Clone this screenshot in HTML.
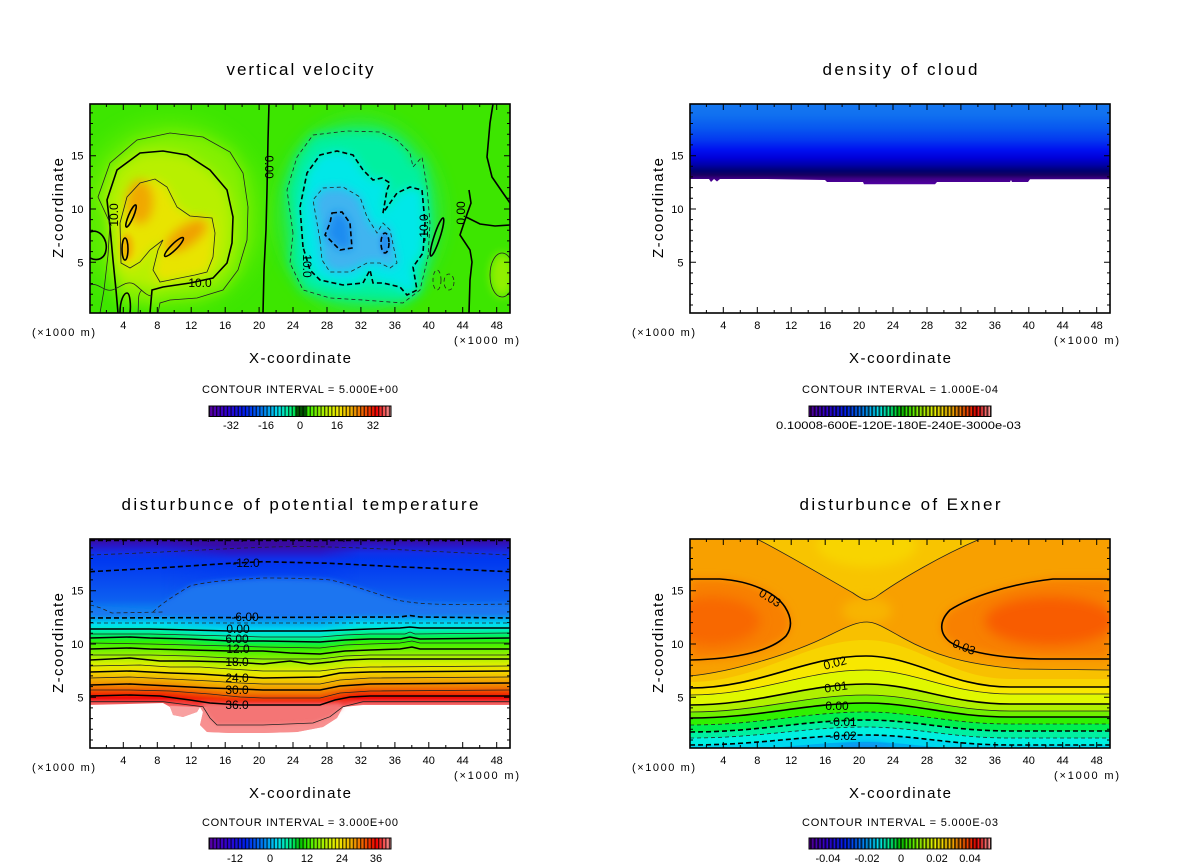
<!DOCTYPE html>
<html><head><meta charset="utf-8"><style>
html,body{margin:0;padding:0;background:#fff;}
svg{display:block;}
text{font-family:"Liberation Sans",sans-serif;fill:#000;}
</style></head><body>
<svg width="1200" height="868" viewBox="0 0 1200 868" xmlns="http://www.w3.org/2000/svg">
<defs>
<clipPath id="cTL"><rect x="90" y="104" width="420" height="209"/></clipPath>
<clipPath id="cTR"><rect x="690" y="104" width="420" height="209"/></clipPath>
<clipPath id="cBL"><rect x="90" y="539" width="420" height="209"/></clipPath>
<clipPath id="cBR"><rect x="690" y="539" width="420" height="209"/></clipPath>
<filter id="b2" x="-50%" y="-50%" width="200%" height="200%"><feGaussianBlur stdDeviation="2"/></filter>
<filter id="b3" x="-50%" y="-50%" width="200%" height="200%"><feGaussianBlur stdDeviation="3"/></filter>
<filter id="b4" x="-50%" y="-50%" width="200%" height="200%"><feGaussianBlur stdDeviation="4.5"/></filter>
<filter id="b5" x="-50%" y="-50%" width="200%" height="200%"><feGaussianBlur stdDeviation="5"/></filter>
<filter id="b6" x="-50%" y="-50%" width="200%" height="200%"><feGaussianBlur stdDeviation="6"/></filter>
<filter id="b10" x="-50%" y="-50%" width="200%" height="200%"><feGaussianBlur stdDeviation="10"/></filter>
<linearGradient id="gCloud" gradientUnits="userSpaceOnUse" x1="0" y1="104" x2="0" y2="184">
<stop offset="0" stop-color="#1678f0"/><stop offset="0.1375" stop-color="#1070f0"/><stop offset="0.3" stop-color="#0858f0"/><stop offset="0.45" stop-color="#0438f0"/><stop offset="0.575" stop-color="#0010f0"/><stop offset="0.675" stop-color="#0000d8"/><stop offset="0.7625" stop-color="#0000a8"/><stop offset="0.8375" stop-color="#000070"/><stop offset="0.8875" stop-color="#180060"/><stop offset="0.9375" stop-color="#400088"/><stop offset="1" stop-color="#5000a0"/>
</linearGradient>
<linearGradient id="gTheta" gradientUnits="userSpaceOnUse" x1="0" y1="539" x2="0" y2="748">
<stop offset="0" stop-color="#3a0aa0"/><stop offset="0.0335" stop-color="#2818c8"/><stop offset="0.067" stop-color="#1030e8"/><stop offset="0.1" stop-color="#0038f0"/><stop offset="0.187" stop-color="#0848f0"/><stop offset="0.292" stop-color="#0c60f0"/><stop offset="0.349" stop-color="#0c88f0"/><stop offset="0.383" stop-color="#00b8f0"/><stop offset="0.411" stop-color="#00e0f0"/><stop offset="0.435" stop-color="#00f0b8"/><stop offset="0.464" stop-color="#00f060"/><stop offset="0.493" stop-color="#30f000"/><stop offset="0.531" stop-color="#70f000"/><stop offset="0.565" stop-color="#a8f000"/><stop offset="0.598" stop-color="#d8f000"/><stop offset="0.627" stop-color="#f0e000"/><stop offset="0.656" stop-color="#f0c000"/><stop offset="0.684" stop-color="#f0a000"/><stop offset="0.713" stop-color="#f07000"/><stop offset="0.737" stop-color="#f03800"/><stop offset="0.761" stop-color="#f00808"/><stop offset="0.78" stop-color="#f04848"/><stop offset="0.799" stop-color="#f88080"/><stop offset="0.866" stop-color="#f89898"/><stop offset="1" stop-color="#f8a0a0"/>
</linearGradient>
<linearGradient id="gTheta2" gradientUnits="userSpaceOnUse" x1="0" y1="545" x2="0" y2="754">
<stop offset="0" stop-color="#3a0aa0"/><stop offset="0.0335" stop-color="#2818c8"/><stop offset="0.067" stop-color="#1030e8"/><stop offset="0.1" stop-color="#0038f0"/><stop offset="0.187" stop-color="#0848f0"/><stop offset="0.292" stop-color="#0c60f0"/><stop offset="0.349" stop-color="#0c88f0"/><stop offset="0.383" stop-color="#00b8f0"/><stop offset="0.411" stop-color="#00e0f0"/><stop offset="0.435" stop-color="#00f0b8"/><stop offset="0.464" stop-color="#00f060"/><stop offset="0.493" stop-color="#30f000"/><stop offset="0.531" stop-color="#70f000"/><stop offset="0.565" stop-color="#a8f000"/><stop offset="0.598" stop-color="#d8f000"/><stop offset="0.627" stop-color="#f0e000"/><stop offset="0.656" stop-color="#f0c000"/><stop offset="0.684" stop-color="#f0a000"/><stop offset="0.713" stop-color="#f07000"/><stop offset="0.737" stop-color="#f03800"/><stop offset="0.761" stop-color="#f00808"/><stop offset="0.78" stop-color="#f04848"/><stop offset="0.799" stop-color="#f88080"/><stop offset="0.866" stop-color="#f89898"/><stop offset="1" stop-color="#f8a0a0"/>
</linearGradient>
<linearGradient id="gMaskH" gradientUnits="userSpaceOnUse" x1="90" y1="0" x2="510" y2="0">
<stop offset="0.17" stop-color="#000"/><stop offset="0.333" stop-color="#fff"/><stop offset="0.548" stop-color="#fff"/><stop offset="0.64" stop-color="#000"/>
</linearGradient>
<mask id="mMid"><rect x="90" y="539" width="420" height="209" fill="url(#gMaskH)"/></mask>
<linearGradient id="gBar" x1="0" y1="0" x2="1" y2="0">
<stop offset="0" stop-color="#5a00a0"/><stop offset="0.1" stop-color="#3000d0"/><stop offset="0.2" stop-color="#0020f0"/><stop offset="0.3" stop-color="#0080f0"/><stop offset="0.38" stop-color="#00e0f0"/><stop offset="0.45" stop-color="#00f080"/><stop offset="0.5" stop-color="#00c000"/><stop offset="0.55" stop-color="#40f000"/><stop offset="0.62" stop-color="#a0f000"/><stop offset="0.7" stop-color="#f0f000"/><stop offset="0.78" stop-color="#f0b000"/><stop offset="0.86" stop-color="#f05000"/><stop offset="0.92" stop-color="#f00000"/><stop offset="1" stop-color="#f8a0a0"/>
</linearGradient>
<pattern id="pStripe" x="0" y="0" width="3.6" height="20" patternUnits="userSpaceOnUse"><rect width="1.3" height="20" fill="#000" fill-opacity="0.7"/></pattern>
<pattern id="pStripe2" x="0" y="0" width="3.6" height="20" patternUnits="userSpaceOnUse"><rect width="2" height="20" fill="#000" fill-opacity="0.7"/></pattern>
<g id="ticks" fill="none" stroke="#000">
<path stroke-width="1" d="M123.3,313v-6M157.3,313v-6M191.2,313v-6M225.2,313v-6M259.1,313v-6M293,313v-6M327,313v-6M360.9,313v-6M394.9,313v-6M428.8,313v-6M462.7,313v-6M496.7,313v-6M123.3,104v6M157.3,104v6M191.2,104v6M225.2,104v6M259.1,104v6M293,104v6M327,104v6M360.9,104v6M394.9,104v6M428.8,104v6M462.7,104v6M496.7,104v6M106.4,313v-3M140.3,313v-3M174.2,313v-3M208.2,313v-3M242.1,313v-3M276.1,313v-3M310,313v-3M343.9,313v-3M377.9,313v-3M411.8,313v-3M445.8,313v-3M479.7,313v-3M106.4,104v3M140.3,104v3M174.2,104v3M208.2,104v3M242.1,104v3M276.1,104v3M310,104v3M343.9,104v3M377.9,104v3M411.8,104v3M445.8,104v3M479.7,104v3M90,262.3h6M90,209h6M90,155.7h6M510,262.3h-6M510,209h-6M510,155.7h-6M90,305h3M90,294.3h3M90,283.6h3M90,272.9h3M90,251.6h3M90,240.9h3M90,230.2h3M90,219.6h3M90,198.3h3M90,187.6h3M90,176.9h3M90,166.3h3M90,144.9h3M90,134.2h3M90,123.5h3M90,112.9h3M510,305h-3M510,294.3h-3M510,283.6h-3M510,272.9h-3M510,251.6h-3M510,240.9h-3M510,230.2h-3M510,219.6h-3M510,198.3h-3M510,187.6h-3M510,176.9h-3M510,166.3h-3M510,144.9h-3M510,134.2h-3M510,123.5h-3M510,112.9h-3"/>
<rect x="90" y="104" width="420" height="209" stroke-width="1.6"/>
</g>
</defs>
<rect width="1200" height="868" fill="#fff"/>

<!-- ============ PANEL 1: vertical velocity ============ -->
<g clip-path="url(#cTL)">
<rect x="90" y="104" width="420" height="209" fill="#3de600"/>
<ellipse cx="170" cy="215" rx="95" ry="95" fill="#5cec00" filter="url(#b10)"/>
<ellipse cx="360" cy="215" rx="80" ry="95" fill="#20ea50" filter="url(#b10)"/>
<polygon filter="url(#b6)" fill="#84f000" points="110,223 98,197 110,163 137,140 170,133 203,137 230,152 243,173 248,207 247,240 238,270 223,290 197,298 170,300 150,305 140,300 130,305 118,295 112,270 108,250"/>
<polygon filter="url(#b6)" fill="#b8f000" points="110,227 107,200 117,170 140,153 163,151 187,155 210,170 227,190 233,217 232,243 227,263 213,278 190,283 163,287 150,290 140,285 125,285 115,270 112,250"/>
<polygon filter="url(#b5)" fill="#e8e400" points="121,263 120,223 127,197 140,183 155,179 167,187 177,207 190,216 212,218 215,233 213,257 207,272 195,275 180,278 160,282 153,270 158,250 163,240 150,250 140,262 130,268"/>
<ellipse cx="140" cy="202" rx="13" ry="22" fill="#f0a800" filter="url(#b5)"/>
<ellipse cx="186" cy="236" rx="24" ry="10" fill="#f0a000" filter="url(#b5)" transform="rotate(-35 186 236)"/>
<ellipse cx="127" cy="247" rx="6" ry="13" fill="#f0b000" filter="url(#b3)"/>
<polygon filter="url(#b6)" fill="#00f0a0" points="293,233 287,190 297,157 313,135 347,131 380,132 397,140 410,153 413,167 422,157 427,187 430,223 428,257 420,290 403,303 363,300 330,298 303,290 290,263"/>
<polygon filter="url(#b5)" fill="#00e8e8" points="303,247 300,207 307,173 320,155 337,151 353,155 363,170 373,180 382,178 390,183 387,190 383,213 397,193 410,187 422,190 425,223 423,253 413,267 417,290 407,295 400,287 383,283 373,283 370,270 363,283 343,285 320,280 310,270"/>
<polygon filter="url(#b5)" fill="#40b4f0" points="320,240 313,200 323,188 343,187 360,197 367,217 377,233 383,223 390,230 397,263 390,268 380,263 367,263 350,272 330,272 322,260"/>
<polygon filter="url(#b4)" fill="#1c8cf0" points="332,213 342,212 350,223 352,248 340,250 332,242 325,235 330,223"/>
<ellipse cx="385" cy="243" rx="5" ry="11" fill="#2890f0" filter="url(#b2)"/>
<ellipse cx="502" cy="275" rx="12" ry="22" fill="#90f000" filter="url(#b4)"/>
<!-- thick solid -->
<g fill="none" stroke="#000" stroke-width="1.6">
<path d="M269,104 L268,140 L267,190 L266,230 L264,270 L263,313"/>
<path d="M118,313 L116,290 L113,260 L110,227 L107,200 L117,170 L140,153 L163,151 L187,155 L210,170 L227,190 L233,217 L232,243 L227,263 L213,278 L190,283 L163,287 L152,290 L150,313"/>
<ellipse cx="131" cy="216" rx="2.5" ry="12" transform="rotate(23 131 216)"/>
<ellipse cx="125" cy="249" rx="3" ry="11"/>
<ellipse cx="174" cy="247" rx="13" ry="3" transform="rotate(-45 174 247)"/>
<path d="M493,104 L490,123 L487,157 L492,177 L503,193 L510,203"/>
<path d="M469,190 L471,203 L466,217 L460,235 L470,250 L472,262 L470,280 L469,313"/>
<path d="M466,217 L480,224 L495,226 L510,225"/>
<ellipse cx="437" cy="237" rx="3" ry="20" transform="rotate(18 437 237)"/>
<path d="M90,232 C100,228 108,240 106,250 C105,258 98,262 90,258"/>
<path d="M120,313 C120,300 124,293 127,293 C130,293 131,305 130,313"/>
</g>
<!-- thin solid -->
<g fill="none" stroke="#222" stroke-width="0.8">
<path d="M100,313 L104,290 L108,255 L110,223 L98,197 L110,163 L137,140 L170,133 L203,137 L230,152 L243,173 L248,207 L247,240 L238,270 L223,290 L197,298 L170,300 L160,303 L158,313"/>
<polygon points="121,263 120,223 127,197 140,183 155,179 167,187 177,207 190,216 212,218 215,233 213,257 207,272 195,275 180,278 160,282 153,270 158,250 163,240 150,250 140,262 130,268"/>
<path d="M90,285 C98,282 104,292 112,290 C120,288 126,280 134,284 C140,288 146,296 152,296"/>
<path d="M138,313 C139,302 137,294 142,290"/>
<ellipse cx="502" cy="275" rx="12" ry="22"/>
</g>
<!-- dashed -->
<g fill="none" stroke="#222" stroke-width="0.8" stroke-dasharray="4 3">
<polygon points="293,233 287,190 297,157 313,135 347,131 380,132 397,140 410,153 413,167 422,157 427,187 430,223 428,257 420,290 403,303 363,300 330,298 303,290 290,263"/>
<polygon points="320,240 313,200 323,188 343,187 360,197 367,217 377,233 383,223 390,230 397,263 390,268 380,263 367,263 350,272 330,272 322,260"/>
<ellipse cx="437" cy="280" rx="4" ry="10"/>
<ellipse cx="449" cy="282" rx="5" ry="8"/>
</g>
<g fill="none" stroke="#000" stroke-width="1.6" stroke-dasharray="5 3">
<polygon points="303,247 300,207 307,173 320,155 337,151 353,155 363,170 373,180 382,178 390,183 387,190 383,213 397,193 410,187 422,190 425,223 423,253 413,267 417,290 407,295 400,287 383,283 373,283 370,270 363,283 343,285 320,280 310,270"/>
<polygon points="332,213 342,212 350,223 352,248 340,250 332,242 325,235 330,223"/>
<ellipse cx="385" cy="243" rx="4" ry="10"/>
</g>
<g font-size="12">
<text x="200" y="287" text-anchor="middle">10.0</text>
<text transform="translate(265,167) rotate(90)" text-anchor="middle">0.00</text>
<text transform="translate(118,215) rotate(-90)" text-anchor="middle">10.0</text>
<text transform="translate(303,266) rotate(90)" text-anchor="middle">10.0</text>
<text transform="translate(428,228) rotate(-90)" text-anchor="middle">-10.0</text>
<text transform="translate(465,213) rotate(-90)" text-anchor="middle">0.00</text>
</g>
</g>
<use href="#ticks"/>

<!-- ============ PANEL 2: density of cloud ============ -->
<g clip-path="url(#cTR)">
<path fill="url(#gCloud)" d="M690,104 L1110,104 L1110,179.3 L1030,179.3 L1028,182 L1012,182 L1011,180 L1010,182 L937,182 L935,184.3 L864,184.3 L863,182 L827,182 L825,180 L767,179 L720,179 L717,181.5 L714,179 L711,182 L709,179 L690,179 Z"/>
</g>
<use href="#ticks" transform="translate(600,0)"/>

<!-- ============ PANEL 3: potential temperature ============ -->
<g clip-path="url(#cBL)">
<rect x="90" y="539" width="420" height="209" fill="url(#gTheta)"/>
<rect x="90" y="539" width="420" height="209" fill="url(#gTheta2)" mask="url(#mMid)"/>
<path filter="url(#b3)" fill="#1a74f0" d="M153,612 C160,605 170,598 190,586 C210,581 230,580 263,578 C300,578 320,579 330,580 C350,584 370,592 397,600 C420,605 450,605 510,604 L510,616 L90,617 L90,608 Z"/>
<path fill="#fff" d="M90,705 L163,703 L170,707 L173,715 L183,717 L197,712 L200,707 L203,712 L200,725 L207,732 L230,733 L263,733 L297,732 L323,727 L337,718 L343,707 L363,705 L510,705 L510,750 L90,750 Z"/>
<path fill="#f8a0a0" d="M170,706 L173,715 L183,717 L197,712 L200,707 Z"/>
<path fill="#f89090" d="M200,707 L203,712 L200,725 L207,732 L230,733 L263,733 L297,732 L323,727 L337,718 L343,707 Z"/>
<path filter="url(#b2)" fill="#f47474" d="M203,706 L210,718 L217,725 L263,725 L313,723 L330,717 L343,707 L340,703 L200,703 Z"/>
<!-- dashed -->
<g fill="none" stroke="#000" stroke-width="1.6" stroke-dasharray="5 3">
<path d="M90,540.5 L510,540.5"/>
<path d="M90,571.7 L163,567.7 L230,563.3 L263,561.7 L330,563.3 L397,566.7 L510,571.7"/>
<path d="M90,618 L400,617 L410,615.5 L420,617 L510,618"/>
</g>
<g fill="none" stroke="#222" stroke-width="0.8" stroke-dasharray="4 3">
<path d="M90,555 C200,551 240,547 300,546.5 C360,547 420,551 510,555"/>
<path d="M90,605 C100,607 105,610 112,613 L163,612 M153,612 C160,605 170,598 190,586 C210,581 230,580 263,578 C300,578 320,579 330,580 C350,584 370,592 397,600 C420,605 450,605 510,604"/>
<path d="M90,623 L510,623"/>
</g>
<g fill="none" stroke="#000" stroke-width="1.5">
<path d="M90,629 L150,629 L190,630 L230,631 L263,631 L320,631 L345,630 L370,629 L400,628 L410,627 L420,628 L510,628"/>
<path d="M90,638 L130,637 L150,638 L190,639 L230,641 L263,641 L320,642 L345,640 L370,639 L400,639 L410,637 L420,639 L510,638"/>
<path d="M90,649 L130,648 L150,649 L190,650 L230,651 L263,651 L290,653 L320,654 L345,651 L370,650 L400,649 L412,647 L420,649 L510,649"/>
<path d="M90,660 L130,658 L160,661 L190,661 L230,662 L263,664 L290,661 L310,664 L330,662 L345,660 L370,659 L510,659"/>
<path d="M90,672 L130,671 L170,673 L200,674 L230,676 L263,678 L320,677 L340,673 L370,672 L510,671"/>
<path d="M90,685 L130,684 L170,686 L210,688 L240,689 L263,690 L320,690 L340,686 L370,684 L510,683"/>
<path d="M90,696 L130,695 L160,696 L190,700 L210,703 L240,705 L263,705 L320,705 L335,700 L350,697 L370,696 L510,696"/>
</g>
<g fill="none" stroke="#222" stroke-width="0.8">
<path d="M90,634 L150,634 L190,635 L230,636 L263,637 L320,637 L345,635 L370,634 L405,634 L410,632 L415,634 L510,633"/>
<path d="M90,643 L150,644 L190,645 L230,646 L263,647 L320,648 L345,645 L370,644 L400,643 L412,641 L420,643 L510,643"/>
<path d="M90,655 L150,655 L190,656 L230,658 L263,659 L320,659 L345,656 L370,655 L510,655"/>
<path d="M90,666 L140,665 L170,667 L200,667 L230,669 L263,671 L320,671 L345,668 L370,667 L510,666"/>
<path d="M90,678 L130,677 L170,679 L210,681 L240,683 L263,684 L320,684 L340,680 L370,678 L510,677"/>
<path d="M90,690 L130,690 L170,691 L210,694 L240,697 L263,698 L320,698 L340,693 L370,691 L510,690"/>
<path d="M90,701.7 L163,701.7 L203,706.7 L210,718 L217,725 L263,725 L313,723 L330,716.7 L343,706.7 L363,701.7 L510,701.7"/>
</g>
<g font-size="12" text-anchor="middle">
<text x="246" y="567">-12.0</text>
<text x="245" y="621">-6.00</text>
<text x="238" y="633">0.00</text>
<text x="237" y="643">6.00</text>
<text x="238" y="653">12.0</text>
<text x="237" y="666">18.0</text>
<text x="237" y="682">24.0</text>
<text x="237" y="694">30.0</text>
<text x="237" y="709">36.0</text>
</g>
</g>
<use href="#ticks" transform="translate(0,435)"/>

<!-- ============ PANEL 4: Exner ============ -->
<g clip-path="url(#cBR)">
<rect x="690" y="539" width="420" height="209" fill="#f8a000"/>
<path fill="#f8c400" d="M757,539 C790,556 830,580 853,593 C860,598 864,600 867,600 C870,600 875,598 880,594 C900,580 940,556 980,539 Z"/>
<ellipse cx="867" cy="545" rx="50" ry="22" fill="#f8d400" filter="url(#b5)"/>
<ellipse cx="867" cy="611" rx="25" ry="14" fill="#f8b400" filter="url(#b5)"/>
<path filter="url(#b4)" fill="#f88000" d="M690,579 L720,579 C750,581 775,592 785,607 C792,618 792,628 786,636 C772,650 740,659 690,660 Z"/>
<path filter="url(#b4)" fill="#f88000" d="M1110,579 L1053,579 C1010,584 970,597 950,610 C938,622 940,634 950,642 C965,652 1000,658 1040,659 L1110,659 Z"/>
<ellipse cx="712" cy="621" rx="48" ry="24" fill="#f86800" filter="url(#b6)"/>
<ellipse cx="1050" cy="621" rx="65" ry="24" fill="#f85c00" filter="url(#b6)"/>
<path fill="#f8c000" d="M690,676 C730,672 790,655 830,635 C850,625 858,622 867,622 C876,622 885,628 903,638 C930,653 960,664 1020,669 L1110,670 L1110,750 L690,750 Z"/>
<path fill="#f8d400" d="M690,682 C760,682 805,640 866,640 C915,640 950,679 1010,679 L1110,679 L1110,750 L690,750 Z"/>
<path fill="#f8e800" d="M690,688 C760,688 805,656 866,656 C915,656 950,687 1010,687 L1110,687 L1110,750 L690,750 Z"/>
<path fill="#e0f800" d="M690,695 C760,695 805,670 866,670 C915,670 950,694 1010,694 L1110,694 L1110,750 L690,750 Z"/>
<path fill="#b0f000" d="M690,705 C760,705 805,684 866,684 C915,684 950,704 1010,704 L1110,704 L1110,750 L690,750 Z"/>
<path fill="#70f000" d="M690,712 C760,712 805,695 866,695 C915,695 950,711 1010,711 L1110,711 L1110,750 L690,750 Z"/>
<path fill="#30f000" d="M690,718 C760,718 805,703 866,703 C915,703 950,717 1010,717 L1110,717 L1110,750 L690,750 Z"/>
<path fill="#00f050" d="M690,725 C760,725 805,712 866,712 C915,712 950,724 1010,724 L1110,724 L1110,750 L690,750 Z"/>
<path fill="#00f0a0" d="M690,732 C760,732 805,720 866,720 C915,720 950,731 1010,731 L1110,731 L1110,750 L690,750 Z"/>
<path fill="#00f0e0" d="M690,738 C760,738 805,727 866,727 C915,727 950,738 1010,738 L1110,738 L1110,750 L690,750 Z"/>
<path fill="#00d8f0" d="M690,745 C760,745 805,735 866,735 C915,735 950,745 1010,745 L1110,745 L1110,750 L690,750 Z"/>
<path fill="#00b0f0" d="M690,752 C760,752 805,742 866,742 C915,742 950,752 1010,752 L1110,752 L1110,760 L690,760 Z"/>
<ellipse cx="866" cy="750" rx="28" ry="7" fill="#1090f0" filter="url(#b3)"/>
<g fill="none" stroke="#222" stroke-width="0.8">
<path d="M757,539 C790,556 830,580 853,593 C860,598 864,600 867,600 C870,600 875,598 880,594 C900,580 940,556 980,539"/>
<path d="M690,676 C730,672 790,655 830,635 C850,625 858,622 867,622 C876,622 885,628 903,638 C930,653 960,664 1020,669 L1110,670"/>
<path d="M690,695 C760,695 805,670 866,670 C915,670 950,694 1010,694 L1110,694"/>
<path d="M690,712 C760,712 805,695 866,695 C915,695 950,711 1010,711 L1110,711"/>
</g>
<g fill="none" stroke="#222" stroke-width="0.8" stroke-dasharray="4 3">
<path d="M690,725 C760,725 805,712 866,712 C915,712 950,724 1010,724 L1110,724"/>
<path d="M690,738 C760,738 805,727 866,727 C915,727 950,738 1010,738 L1110,738"/>
</g>
<g fill="none" stroke="#000" stroke-width="1.6">
<path d="M690,579 L720,579 C750,581 775,592 785,607 C792,618 792,628 786,636 C772,650 740,659 690,660"/>
<path d="M1110,579 L1053,579 C1010,584 970,597 950,610 C938,622 940,634 950,642 C965,652 1000,658 1040,659 L1110,659"/>
<path d="M690,688 C760,688 805,656 866,656 C915,656 950,687 1010,687 L1110,687"/>
<path d="M690,705 C760,705 805,684 866,684 C915,684 950,704 1010,704 L1110,704"/>
<path d="M690,718 C760,718 805,703 866,703 C915,703 950,717 1010,717 L1110,717"/>
</g>
<g fill="none" stroke="#000" stroke-width="1.6" stroke-dasharray="5 3">
<path d="M690,732 C760,732 805,720 866,720 C915,720 950,731 1010,731 L1110,731"/>
<path d="M690,745 C760,745 805,735 866,735 C915,735 950,745 1010,745 L1110,745"/>
</g>
<g font-size="12" text-anchor="middle">
<text transform="translate(770,598) rotate(32)" y="4">0.03</text>
<text transform="translate(964,647) rotate(22)" y="4">0.03</text>
<text transform="translate(835,663) rotate(-15)" y="4">0.02</text>
<text transform="translate(836,687) rotate(-8)" y="4">0.01</text>
<text x="837" y="710">0.00</text>
<text x="843" y="726">-0.01</text>
<text x="843" y="740">-0.02</text>
</g>
</g>
<use href="#ticks" transform="translate(600,435)"/>

<!-- ============ TEXT: titles ============ -->
<g font-size="17">
<text x="300" y="75" text-anchor="middle" textLength="147" lengthAdjust="spacing">vertical velocity</text>
<text x="900" y="75" text-anchor="middle" textLength="155" lengthAdjust="spacing">density of cloud</text>
<text x="300" y="510" text-anchor="middle" textLength="357" lengthAdjust="spacing">disturbunce of potential temperature</text>
<text x="900" y="510" text-anchor="middle" textLength="201" lengthAdjust="spacing">disturbunce of Exner</text>
</g>

<!-- axis labels & ticks text -->
<g font-size="11" text-anchor="middle">
<text x="123.3" y="329">4</text><text x="157.3" y="329">8</text><text x="191.2" y="329">12</text><text x="225.2" y="329">16</text><text x="259.1" y="329">20</text><text x="293" y="329">24</text><text x="327" y="329">28</text><text x="360.9" y="329">32</text><text x="394.9" y="329">36</text><text x="428.8" y="329">40</text><text x="462.7" y="329">44</text><text x="496.7" y="329">48</text>
<text x="723.3" y="329">4</text><text x="757.3" y="329">8</text><text x="791.2" y="329">12</text><text x="825.2" y="329">16</text><text x="859.1" y="329">20</text><text x="893" y="329">24</text><text x="927" y="329">28</text><text x="960.9" y="329">32</text><text x="994.9" y="329">36</text><text x="1028.8" y="329">40</text><text x="1062.7" y="329">44</text><text x="1096.7" y="329">48</text>
<text x="123.3" y="764">4</text><text x="157.3" y="764">8</text><text x="191.2" y="764">12</text><text x="225.2" y="764">16</text><text x="259.1" y="764">20</text><text x="293" y="764">24</text><text x="327" y="764">28</text><text x="360.9" y="764">32</text><text x="394.9" y="764">36</text><text x="428.8" y="764">40</text><text x="462.7" y="764">44</text><text x="496.7" y="764">48</text>
<text x="723.3" y="764">4</text><text x="757.3" y="764">8</text><text x="791.2" y="764">12</text><text x="825.2" y="764">16</text><text x="859.1" y="764">20</text><text x="893" y="764">24</text><text x="927" y="764">28</text><text x="960.9" y="764">32</text><text x="994.9" y="764">36</text><text x="1028.8" y="764">40</text><text x="1062.7" y="764">44</text><text x="1096.7" y="764">48</text>
</g>
<g font-size="11" text-anchor="end">
<text x="83.5" y="159.5">15</text><text x="83.5" y="213">10</text><text x="83.5" y="266.3">5</text>
<text x="683.5" y="159.5">15</text><text x="683.5" y="213">10</text><text x="683.5" y="266.3">5</text>
<text x="83.5" y="594.5">15</text><text x="83.5" y="648">10</text><text x="83.5" y="701.3">5</text>
<text x="683.5" y="594.5">15</text><text x="683.5" y="648">10</text><text x="683.5" y="701.3">5</text>
</g>
<g font-size="11">
<text x="32" y="336" textLength="63" lengthAdjust="spacing">(×1000 m)</text>
<text x="454" y="344" textLength="65" lengthAdjust="spacing">(×1000 m)</text>
<text x="632" y="336" textLength="63" lengthAdjust="spacing">(×1000 m)</text>
<text x="1054" y="344" textLength="65" lengthAdjust="spacing">(×1000 m)</text>
<text x="32" y="771" textLength="63" lengthAdjust="spacing">(×1000 m)</text>
<text x="454" y="779" textLength="65" lengthAdjust="spacing">(×1000 m)</text>
<text x="632" y="771" textLength="63" lengthAdjust="spacing">(×1000 m)</text>
<text x="1054" y="779" textLength="65" lengthAdjust="spacing">(×1000 m)</text>
</g>
<g font-size="15" text-anchor="middle">
<text x="300" y="363" textLength="102" lengthAdjust="spacing">X-coordinate</text>
<text x="900" y="363" textLength="102" lengthAdjust="spacing">X-coordinate</text>
<text x="300" y="798" textLength="102" lengthAdjust="spacing">X-coordinate</text>
<text x="900" y="798" textLength="102" lengthAdjust="spacing">X-coordinate</text>
<text transform="translate(63,208) rotate(-90)" textLength="100" lengthAdjust="spacing">Z-coordinate</text>
<text transform="translate(663,208) rotate(-90)" textLength="100" lengthAdjust="spacing">Z-coordinate</text>
<text transform="translate(63,643) rotate(-90)" textLength="100" lengthAdjust="spacing">Z-coordinate</text>
<text transform="translate(663,643) rotate(-90)" textLength="100" lengthAdjust="spacing">Z-coordinate</text>
</g>

<g font-size="11" text-anchor="middle">
<text x="300" y="393" textLength="196" lengthAdjust="spacing">CONTOUR INTERVAL = 5.000E+00</text>
<text x="900" y="393" textLength="196" lengthAdjust="spacing">CONTOUR INTERVAL = 1.000E-04</text>
<text x="300" y="826" textLength="196" lengthAdjust="spacing">CONTOUR INTERVAL = 3.000E+00</text>
<text x="900" y="826" textLength="196" lengthAdjust="spacing">CONTOUR INTERVAL = 5.000E-03</text>
</g>

<!-- colorbars -->
<g stroke="none">
<rect x="209" y="406" width="182" height="10.5" fill="url(#gBar)"/>
<rect x="296" y="406" width="10" height="10.5" fill="#005800"/>
<rect x="209" y="406" width="182" height="10.5" fill="url(#pStripe)"/>
<rect x="809" y="406" width="182" height="10.5" fill="url(#gBar)"/>
<rect x="809" y="406" width="182" height="10.5" fill="url(#pStripe2)"/>
<rect x="209" y="838" width="182" height="11" fill="url(#gBar)"/>
<rect x="209" y="838" width="182" height="11" fill="url(#pStripe)"/>
<rect x="809" y="838" width="182" height="11" fill="url(#gBar)"/>
<rect x="809" y="838" width="182" height="11" fill="url(#pStripe2)"/>
</g>
<g fill="none" stroke="#000" stroke-width="1">
<rect x="209" y="406" width="182" height="10.5"/>
<rect x="809" y="406" width="182" height="10.5"/>
<rect x="209" y="838" width="182" height="11"/>
<rect x="809" y="838" width="182" height="11"/>
</g>
<g font-size="11" text-anchor="middle">
<text x="231" y="429">-32</text><text x="266" y="429">-16</text><text x="300" y="429">0</text><text x="337" y="429">16</text><text x="373" y="429">32</text>
<text x="898.5" y="429" textLength="245" lengthAdjust="spacingAndGlyphs">0.10008-600E-120E-180E-240E-3000e-03</text>
<text x="235" y="862">-12</text><text x="270" y="862">0</text><text x="307" y="862">12</text><text x="342" y="862">24</text><text x="376" y="862">36</text>
<text x="828" y="862">-0.04</text><text x="867" y="862">-0.02</text><text x="901" y="862">0</text><text x="937" y="862">0.02</text><text x="970" y="862">0.04</text>
</g>
</svg>
</body></html>
